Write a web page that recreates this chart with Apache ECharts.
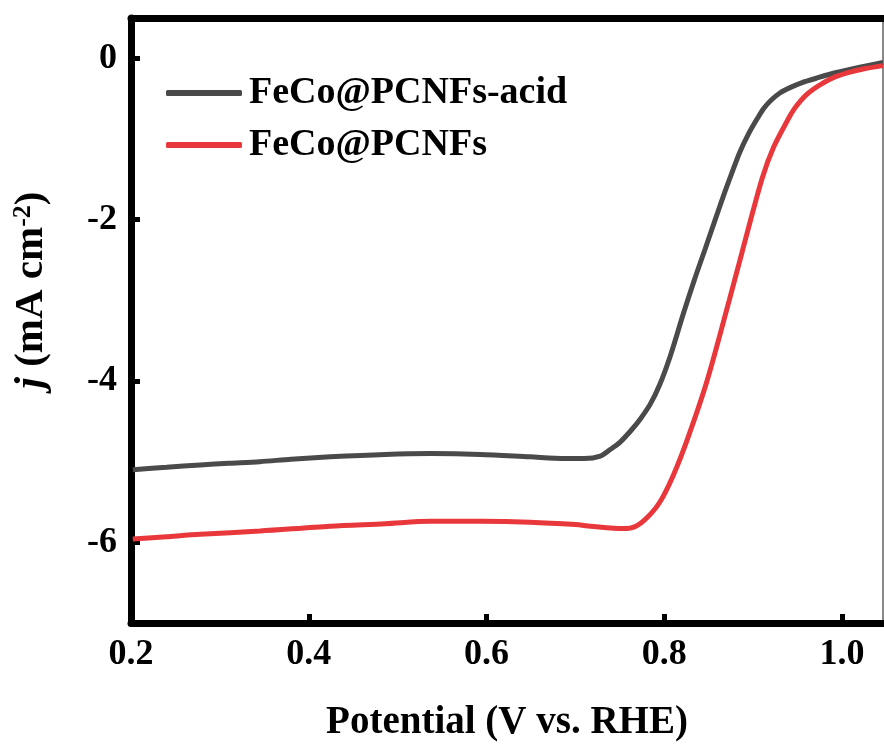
<!DOCTYPE html>
<html>
<head>
<meta charset="utf-8">
<script src="https://cdn.jsdelivr.net/npm/echarts@6/dist/echarts.min.js"></script>
<style>
html,body{margin:0;padding:0;background:#fff;}
#chart{width:884px;height:747px;}
</style>
</head>
<body>
<div id="chart"></div>
<script>
// Potential (V vs. RHE) and current density (mA cm^-2)
const acidPotential = [0.202,0.24,0.278,0.31,0.345,0.38,0.424,0.486,0.537,0.593,0.649,0.688,0.71,0.728,0.739,0.75,0.762,0.773,0.784,0.795,0.807,0.821,0.834,0.846,0.856,0.866,0.876,0.885,0.895,0.905,0.912,0.92,0.93,0.942,0.955,0.97,0.985,1.0,1.02,1.046];
const acidCurrent   = [-5.10,-5.07,-5.04,-5.02,-5.00,-4.97,-4.94,-4.91,-4.90,-4.91,-4.94,-4.96,-4.96,-4.93,-4.85,-4.76,-4.62,-4.47,-4.29,-4.04,-3.68,-3.18,-2.74,-2.36,-2.04,-1.72,-1.42,-1.16,-0.93,-0.74,-0.62,-0.52,-0.43,-0.36,-0.30,-0.25,-0.20,-0.16,-0.11,-0.05];

const basePotential = [0.202,0.24,0.278,0.345,0.424,0.486,0.537,0.593,0.649,0.70,0.717,0.754,0.768,0.781,0.795,0.81,0.826,0.848,0.873,0.888,0.91,0.923,0.94,0.946,0.953,0.96,0.968,0.978,0.992,1.009,1.025,1.046];
const baseCurrent   = [-5.96,-5.93,-5.90,-5.86,-5.80,-5.77,-5.74,-5.74,-5.75,-5.78,-5.80,-5.83,-5.80,-5.69,-5.50,-5.17,-4.72,-4.00,-3.00,-2.38,-1.49,-1.10,-0.74,-0.63,-0.53,-0.45,-0.38,-0.31,-0.23,-0.17,-0.13,-0.09];

const seriesNames = ['FeCo@PCNFs-acid', 'FeCo@PCNFs'];
const xTicks = [0.2, 0.4, 0.6, 0.8, 1.0];
const yTicks = [0, -2, -4, -6];

const FONT = "'Liberation Serif', 'Times New Roman', serif";

function pairs(xs, ys) { return xs.map((x, i) => [x, ys[i]]); }

const chart = echarts.init(document.getElementById('chart'), null, {renderer: 'canvas'});
chart.setOption({
  backgroundColor: '#fff',
  animation: false,
  grid: {left: 131, top: 18, right: 1, bottom: 120, containLabel: false},
  legend: {
    orient: 'vertical',
    left: 161,
    top: 66,
    itemWidth: 76,
    itemHeight: 6,
    itemGap: 8,
    icon: 'roundRect',
    data: seriesNames,
    textStyle: {fontFamily: FONT, fontWeight: 'bold', fontSize: 38, color: '#000', lineHeight: 44, padding: [0, 0, 0, 2]}
  },
  xAxis: [{
    type: 'value', position: 'bottom', min: 0.2, max: 1.046,
    axisLine: {show: true, onZero: false, lineStyle: {color: '#000', width: 7}},
    axisTick: {show: true, inside: true, length: 9, lineStyle: {width: 5, color: '#000'}, customValues: xTicks},
    axisLabel: {customValues: xTicks, formatter: v => v.toFixed(1), fontFamily: FONT, fontWeight: 'bold', fontSize: 36, color: '#000', margin: 14},
    splitLine: {show: false},
    name: 'Potential (V vs. RHE)', nameLocation: 'middle', nameGap: 80,
    nameTextStyle: {fontFamily: FONT, fontWeight: 'bold', fontSize: 39, color: '#000'}
  }, {
    type: 'value', position: 'top', min: 0.2, max: 1.046,
    axisLine: {show: true, onZero: false, lineStyle: {color: '#000', width: 7}},
    axisTick: {show: false}, axisLabel: {show: false}, splitLine: {show: false}
  }],
  yAxis: [{
    type: 'value', position: 'left', min: -7, max: 0.5,
    axisLine: {show: true, onZero: false, lineStyle: {color: '#000', width: 7}},
    axisTick: {show: true, inside: true, length: 9, lineStyle: {width: 5, color: '#000'}, customValues: yTicks},
    axisLabel: {customValues: yTicks, fontFamily: FONT, fontWeight: 'bold', fontSize: 36, color: '#000', margin: 14},
    splitLine: {show: false}
  }, {
    type: 'value', position: 'right', min: -7, max: 0.5,
    axisLine: {show: true, onZero: false, lineStyle: {color: '#888', width: 2}},
    axisTick: {show: false}, axisLabel: {show: false}, splitLine: {show: false}
  }],
  graphic: [{
    type: 'text',
    x: 31, y: 290,
    rotation: Math.PI / 2,
    style: {
      text: '{i|j} (mA cm{s|-2})',
      fill: '#000',
      font: "bold 41px 'Liberation Serif', serif",
      align: 'center', verticalAlign: 'middle',
      rich: {
        i: {fontFamily: FONT, fontWeight: 'bold', fontStyle: 'italic', fontSize: 41},
        s: {fontFamily: FONT, fontWeight: 'bold', fontSize: 26, verticalAlign: 'top', lineHeight: 42}
      }
    }
  }],
  series: [{
    name: seriesNames[0], type: 'line', data: pairs(acidPotential, acidCurrent),
    smooth: 0.3, showSymbol: false, color: '#4a4a4a',
    lineStyle: {width: 5, color: '#4a4a4a'}
  }, {
    name: seriesNames[1], type: 'line', data: pairs(basePotential, baseCurrent),
    smooth: 0.3, showSymbol: false, color: '#e8383c',
    lineStyle: {width: 5, color: '#e8383c'}
  }]
});
</script>
</body>
</html>
